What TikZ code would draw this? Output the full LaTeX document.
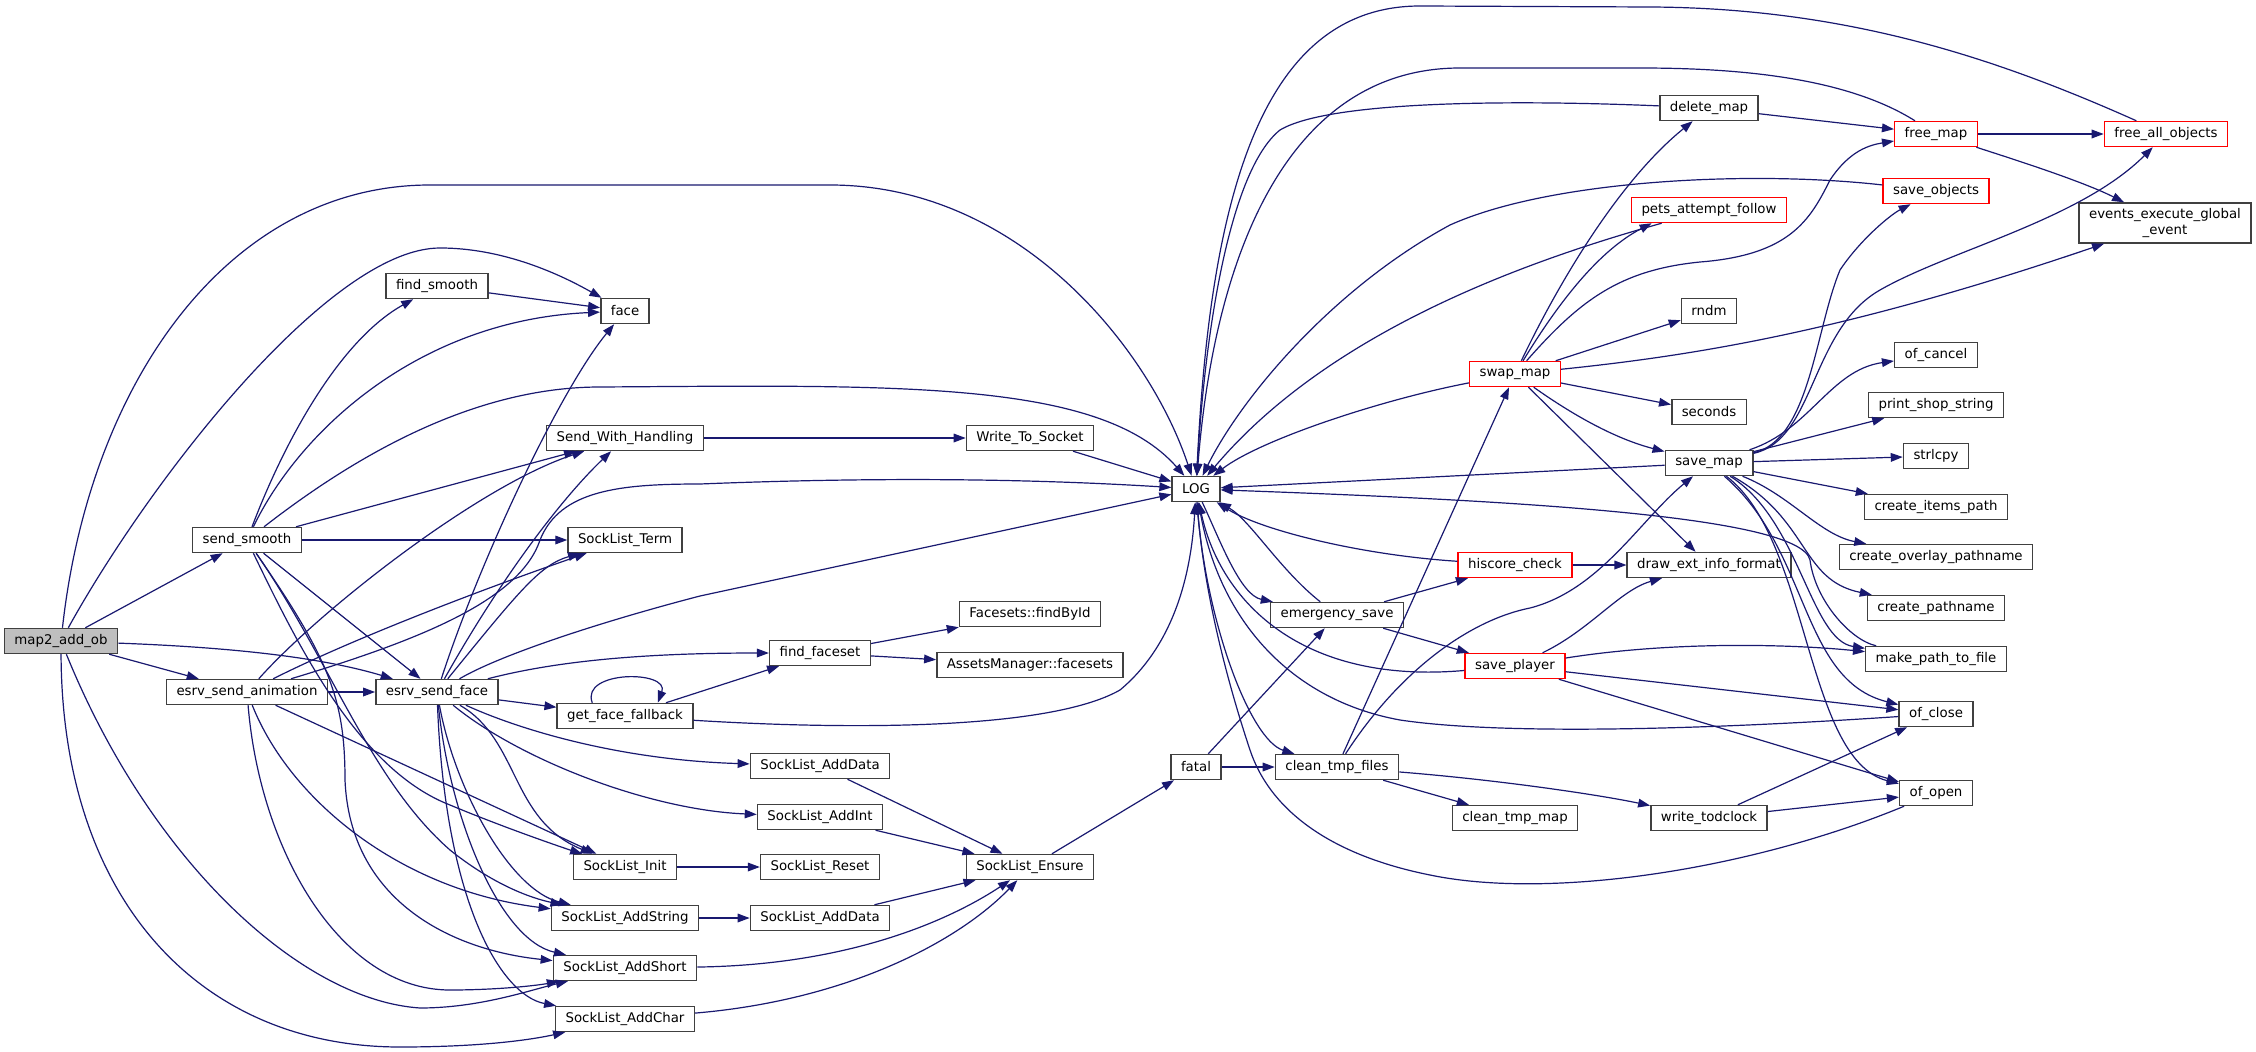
\documentclass[tikz,border=0pt]{standalone}
\usepackage{fontspec}
\setmainfont{DejaVu Sans}
\usetikzlibrary{arrows.meta}
\definecolor{edgeblue}{HTML}{191970}
\definecolor{boxline}{HTML}{404040}
\definecolor{rootgray}{HTML}{BFBFBF}
\begin{document}
\begin{tikzpicture}[x=0.75pt,y=-0.75pt,
 fn/.style={draw=boxline,line width=1.1pt,fill=white,inner xsep=7.5pt,inner ysep=0pt,minimum height=18.75pt,font=\fontsize{10pt}{12pt}\selectfont},
 trunc/.style={fn,draw=red},
 root/.style={fn,fill=rootgray},
 call/.style={color=edgeblue,line width=0.9pt,-{Triangle[length=9pt,width=6.5pt]}}]
\path[use as bounding box,fill=white] (0,0) rectangle (2256,1052);
\node[root] (map2) at (61,641) {map2\_add\_ob};
\node[fn] (sendsmooth) at (247,540) {send\_smooth};
\node[fn] (esrvanim) at (247,692) {esrv\_send\_animation};
\node[fn] (findsmooth) at (437,286) {find\_smooth};
\node[fn] (esrvface) at (437,692) {esrv\_send\_face};
\node[fn] (face) at (625,311) {face};
\node[fn] (swh) at (625,438) {Send\_With\_Handling};
\node[fn] (term) at (625,540) {SockList\_Term};
\node[fn] (gff) at (625,716) {get\_face\_fallback};
\node[fn] (init) at (625,867) {SockList\_Init};
\node[fn] (addstring) at (625,918) {SockList\_AddString};
\node[fn] (addshort) at (625,968) {SockList\_AddShort};
\node[fn] (addchar) at (625,1019) {SockList\_AddChar};
\node[fn] (findfaceset) at (820,653) {find\_faceset};
\node[fn] (adddata1) at (820,766) {SockList\_AddData};
\node[fn] (addint) at (820,817) {SockList\_AddInt};
\node[fn] (reset) at (820,867) {SockList\_Reset};
\node[fn] (adddata2) at (820,918) {SockList\_AddData};
\node[fn] (wts) at (1030,438) {Write\_To\_Socket};
\node[fn] (findbyid) at (1030,614) {Facesets::findById};
\node[fn] (facesets) at (1030,665) {AssetsManager::facesets};
\node[fn] (ensure) at (1030,867) {SockList\_Ensure};
\node[fn] (log) at (1196,489) {LOG};
\node[fn] (fatal) at (1196,767) {fatal};
\node[fn] (emergency) at (1337,615) {emergency\_save};
\node[fn] (cleanfiles) at (1337,767) {clean\_tmp\_files};
\node[trunc] (swapmap) at (1515,374) {swap\_map};
\node[trunc] (hiscore) at (1515,565) {hiscore\_check};
\node[trunc] (saveplayer) at (1515,666) {save\_player};
\node[fn] (cleanmap) at (1515,818) {clean\_tmp\_map};
\node[fn] (deletemap) at (1709,108) {delete\_map};
\node[trunc] (pets) at (1709,210) {pets\_attempt\_follow};
\node[fn] (rndm) at (1709,311) {rndm};
\node[fn] (seconds) at (1709,412) {seconds};
\node[fn] (savemap) at (1709,463) {save\_map};
\node[fn] (drawext) at (1709,565) {draw\_ext\_info\_format};
\node[fn] (todclock) at (1709,818) {write\_todclock};
\node[trunc] (freemap) at (1936,134) {free\_map};
\node[trunc] (saveobjects) at (1936,191) {save\_objects};
\node[fn] (ofcancel) at (1936,355) {of\_cancel};
\node[fn] (printshop) at (1936,405) {print\_shop\_string};
\node[fn] (strlcpy) at (1936,456) {strlcpy};
\node[fn] (itemspath) at (1936,507) {create\_items\_path};
\node[fn] (overlay) at (1936,557) {create\_overlay\_pathname};
\node[fn] (pathname) at (1936,608) {create\_pathname};
\node[fn] (makepath) at (1936,659) {make\_path\_to\_file};
\node[fn] (ofclose) at (1936,714) {of\_close};
\node[fn] (ofopen) at (1936,793) {of\_open};
\node[trunc] (freeall) at (2166,134) {free\_all\_objects};
\node[fn,align=center,minimum height=30pt] (events) at (2165,223) {events\_execute\_global\\\_event};
\draw[call] (map2) .. controls (90,380) and (230,185) .. (430,185) -- (830,185) .. controls (1020,185) and (1150,350) .. (log);
\draw[call] (map2) .. controls (150,480) and (330,248) .. (440,248) .. controls (510,248) and (570,280) .. (face);
\path[call] (map2) edge (sendsmooth) edge (esrvanim);
\draw[call] (map2) .. controls (250,648) and (330,660) .. (esrvface);
\draw[call] (map2) .. controls (150,860) and (300,1000) .. (420,1008) .. controls (480,1008) and (530,990) .. (addshort);
\draw[call] (map2) .. controls (62,900) and (200,1047) .. (400,1047) .. controls (480,1047) and (530,1040) .. (addchar);
\draw[call] (sendsmooth) .. controls (285,440) and (340,340) .. (findsmooth);
\draw[call] (sendsmooth) .. controls (300,430) and (420,320) .. (face);
\draw[call] (sendsmooth) .. controls (350,460) and (470,387) .. (600,387) .. controls (900,385) and (1100,380) .. (log);
\path[call] (sendsmooth) edge (swh) edge (term) edge (esrvface);
\draw[call] (sendsmooth) .. controls (300,650) and (360,770) .. (450,805) .. controls (510,830) and (570,850) .. (init);
\draw[call] (sendsmooth) .. controls (330,660) and (345,700) .. (345,780) .. controls (350,900) and (450,950) .. (addshort);
\draw[call] (sendsmooth) .. controls (330,660) and (370,780) .. (450,850) .. controls (500,890) and (540,900) .. (addstring);
\path[call] (esrvanim) edge (esrvface) edge (init);
\draw[call] (esrvanim) .. controls (320,610) and (480,485) .. (swh);
\draw[call] (esrvanim) .. controls (350,640) and (480,590) .. (term);
\draw[call] (esrvanim) .. controls (420,640) and (520,600) .. (540,540) .. controls (560,490) and (620,484) .. (700,484) .. controls (900,476) and (1050,480) .. (log);
\draw[call] (esrvanim) .. controls (290,800) and (400,890) .. (addstring);
\draw[call] (esrvanim) .. controls (260,850) and (340,990) .. (450,990) .. controls (500,990) and (540,985) .. (addshort);
\draw[call] (esrvface) .. controls (480,560) and (560,390) .. (face);
\draw[call] (esrvface) .. controls (500,580) and (560,500) .. (swh);
\draw[call] (esrvface) .. controls (520,590) and (540,565) .. (term);
\draw[call] (esrvface) .. controls (500,655) and (600,622) .. (700,596) -- (log);
\draw[call] (esrvface) .. controls (560,660) and (650,653) .. (findfaceset);
\path[call] (esrvface) edge (gff);
\draw[call] (esrvface) .. controls (520,730) and (620,760) .. (adddata1);
\draw[call] (esrvface) .. controls (520,760) and (650,810) .. (addint);
\draw[call] (esrvface) .. controls (520,740) and (510,820) .. (init);
\draw[call] (esrvface) .. controls (455,790) and (510,890) .. (addstring);
\draw[call] (esrvface) .. controls (450,820) and (500,940) .. (addshort);
\draw[call] (esrvface) .. controls (445,900) and (500,995) .. (addchar);
\draw[call] (gff.158) .. controls (580,670) and (670,670) .. (gff.22);
\path[call] (gff) edge (findfaceset);
\draw[call] (gff) .. controls (850,730) and (1050,730) .. (1120,690) .. controls (1180,640) and (1192,560) .. (log);
\path[call] (findfaceset) edge (findbyid) edge (facesets);
\path[call] (findsmooth) edge (face);
\path[call] (swh) edge (wts);
\path[call] (wts) edge (log);
\path[call] (adddata1) edge (ensure);
\path[call] (addint) edge (ensure);
\path[call] (init) edge (reset);
\path[call] (addstring) edge (adddata2);
\path[call] (adddata2) edge (ensure);
\draw[call] (addshort) .. controls (850,965) and (950,920) .. (ensure);
\draw[call] (addchar) .. controls (850,1000) and (960,940) .. (ensure);
\path[call] (ensure) edge (fatal);
\path[call] (fatal) edge (emergency) edge (cleanfiles);
\draw[call] (log) .. controls (1220,540) and (1240,595) .. (emergency);
\draw[call] (log) .. controls (1205,620) and (1250,740) .. (cleanfiles);
\draw[call] (emergency) .. controls (1280,570) and (1250,520) .. (log);
\path[call] (emergency) edge (hiscore) edge (saveplayer);
\path[call] (cleanfiles) edge (cleanmap) edge (swapmap);
\draw[call] (cleanfiles) .. controls (1500,780) and (1600,795) .. (todclock);
\draw[call] (cleanfiles) .. controls (1400,670) and (1470,620) .. (1530,608) .. controls (1600,590) and (1640,520) .. (savemap);
\path[call] (hiscore) edge (drawext);
\draw[call] (hiscore) .. controls (1360,555) and (1260,530) .. (log);
\draw[call] (saveplayer) .. controls (1300,685) and (1220,600) .. (log);
\draw[call] (saveplayer) .. controls (1590,630) and (1620,590) .. (drawext);
\draw[call] (saveplayer) .. controls (1680,640) and (1800,645) .. (makepath);
\path[call] (saveplayer) edge (ofclose) edge (ofopen);
\draw[call] (swapmap) .. controls (1380,400) and (1260,440) .. (log);
\draw[call] (swapmap) .. controls (1560,280) and (1620,180) .. (deletemap);
\draw[call] (swapmap) .. controls (1560,300) and (1600,250) .. (pets.193);
\draw[call] (swapmap) .. controls (1580,300) and (1620,270) .. (1700,262) .. controls (1790,255) and (1810,220) .. (1830,180) .. controls (1850,150) and (1870,145) .. (freemap);
\path[call] (swapmap) edge (rndm) edge (seconds) edge (drawext);
\draw[call] (swapmap) .. controls (1700,355) and (1850,330) .. (events);
\draw[call] (swapmap) .. controls (1580,420) and (1620,440) .. (savemap);
\path[call] (deletemap) edge (freemap);
\draw[call] (deletemap) .. controls (1520,100) and (1330,100) .. (1280,130) .. controls (1230,170) and (1205,330) .. (log);
\path[call] (freemap) edge (freeall);
\draw[call] (freemap) .. controls (2000,155) and (2080,180) .. (events);
\draw[call] (freemap) .. controls (1850,80) and (1750,68) .. (1640,68) -- (1460,68) .. controls (1290,68) and (1215,250) .. (log);
\draw[call] (freeall) .. controls (2000,60) and (1850,8) .. (1650,7) -- (1420,6) .. controls (1260,6) and (1210,200) .. (log);
\draw[call] (saveobjects) .. controls (1750,170) and (1550,180) .. (1450,225) .. controls (1330,290) and (1240,400) .. (log);
\draw[call] (pets) .. controls (1530,260) and (1330,330) .. (log);
\path[call] (savemap) edge (log);
\draw[call] (savemap) .. controls (1810,440) and (1815,330) .. (1840,270) .. controls (1860,240) and (1890,215) .. (saveobjects);
\draw[call] (savemap) .. controls (1815,440) and (1810,330) .. (1880,290) .. controls (1950,250) and (2080,220) .. (freeall);
\draw[call] (savemap) .. controls (1810,430) and (1830,370) .. (ofcancel);
\path[call] (savemap) edge (printshop) edge (strlcpy) edge (itemspath);
\draw[call] (savemap) .. controls (1790,495) and (1820,535) .. (overlay);
\draw[call] (savemap) .. controls (1810,520) and (1800,580) .. (pathname);
\draw[call] (savemap) .. controls (1800,520) and (1810,640) .. (makepath);
\draw[call] (savemap) .. controls (1810,550) and (1800,680) .. (ofclose);
\draw[call] (savemap) .. controls (1810,540) and (1805,760) .. (ofopen);
\draw[call] (makepath) .. controls (1850,640) and (1815,600) .. (1810,560) .. controls (1800,515) and (1500,500) .. (log);
\draw[call] (ofclose) .. controls (1700,730) and (1500,735) .. (1400,720) .. controls (1290,700) and (1220,620) .. (log);
\draw[call] (ofopen) .. controls (1750,870) and (1550,900) .. (1430,875) .. controls (1330,855) and (1270,810) .. (1250,750) .. controls (1230,690) and (1205,600) .. (log);
\path[call] (todclock) edge (ofclose) edge (ofopen);
\end{tikzpicture}
\end{document}
